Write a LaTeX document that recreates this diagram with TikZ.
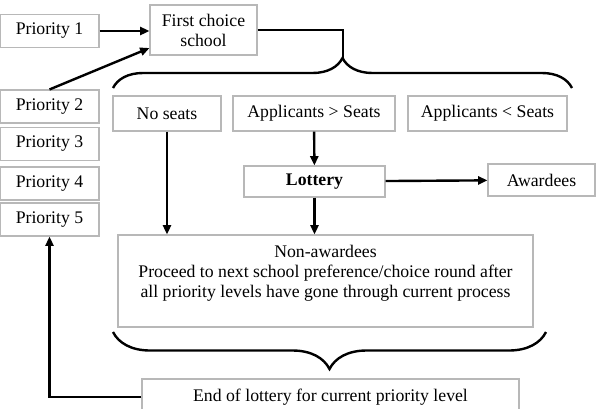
\documentclass[tikz,border=0pt]{standalone}
\usepackage{fontspec}
\setmainfont{Liberation Serif}
\usepackage{tikz}
\usetikzlibrary{arrows.meta, positioning, decorations.pathreplacing}

\begin{document}
\begin{tikzpicture}[
      x=0.75pt, y=-0.75pt,
      box/.style={draw=black!28, line width=0.8pt, fill=white, inner sep=2pt, align=center, font=\fontsize{13.3}{15}\selectfont},
      prio/.style={box, minimum width=99*0.75pt, minimum height=33*0.75pt},
      arrow/.style={-{Triangle[length=7pt, width=6pt]}, line width=1.8pt},
      bracket/.style={line width=1.8pt, decorate, decoration={brace, amplitude=#1}}
    ]
    \useasboundingbox (0,0) rectangle (596,408);

    % priority levels
    \node[prio] (p1) at (49.5,31) {Priority 1};
    \node[prio] (p2) at (49.5,106.5) {Priority 2};
    \node[prio] (p3) at (49.5,144) {Priority 3};
    \node[prio] (p4) at (49.5,183.5) {Priority 4};
    \node[prio] (p5) at (49.5,219.5) {Priority 5};

    \node[box, minimum width=107*0.75pt, minimum height=50*0.75pt] (first) at (203.5,30) {First choice\\school};

    % seat situations
    \node[box, minimum width=108*0.75pt, minimum height=35*0.75pt] (noseats) at (167,113.5) {No seats};
    \node[box, minimum width=162*0.75pt, minimum height=35*0.75pt] (more) at (314,113.5) {Applicants > Seats};
    \node[box, minimum width=159*0.75pt, minimum height=35*0.75pt] (less) at (487.5,113.5) {Applicants < Seats};

    \node[box, minimum width=141*0.75pt, minimum height=31*0.75pt] (lottery) at (314.5,181.5) {\textbf{Lottery}};
    \node[box, minimum width=107*0.75pt, minimum height=32*0.75pt] (award) at (541.5,180) {Awardees};

    \node[box, minimum width=415*0.75pt, minimum height=92*0.75pt] (nonaw) at (325.5,281)
      {Non-awardees\\Proceed to next school preference/choice round after\\all priority levels have gone through current process\\\mbox{}};

    \node[box, minimum width=377*0.75pt, minimum height=36*0.75pt] (endbox) at (330.5,397) {End of lottery for current priority level};

    % braces
    \coordinate (toptip) at (343,58);
    \coordinate (topl) at (113,88);
    \coordinate (topr) at (572,88);
    \draw[bracket=22.5pt] (topl) -- (topr);
    \coordinate (botl) at (113,332);
    \coordinate (botr) at (546,332);
    \draw[bracket=27.75pt] (botr) -- (botl);

    % connectors
    \draw[arrow] (p1.east) -- (p1.east -| first.west);
    \draw[arrow] (p2.north) -- ([yshift=-13.5pt]first.west);
    \draw[line width=1.8pt] (first.east) -| (toptip);
    \draw[arrow] (more) -- (lottery);
    \draw[arrow] (lottery) -- (award);
    \draw[arrow] (noseats.south) -- (noseats.south |- nonaw.north);
    \draw[arrow] (lottery.south) -- (lottery.south |- nonaw.north);
    \draw[arrow] (endbox.west) -| (p5.south);
  \end{tikzpicture}
\end{document}
